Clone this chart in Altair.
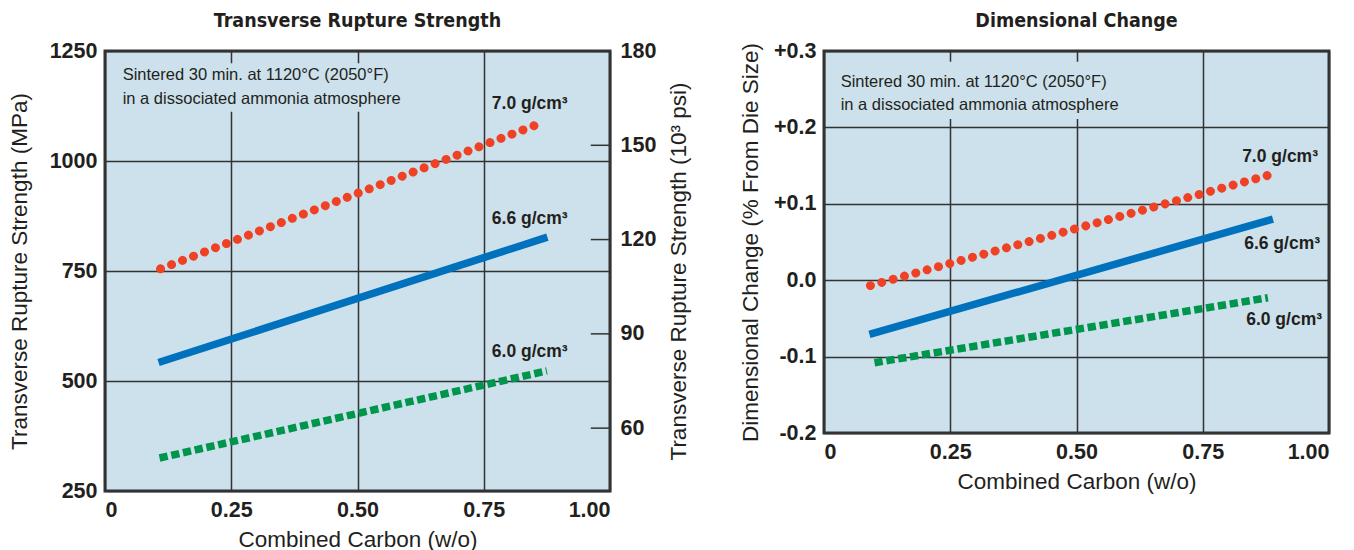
import altair as alt
import pandas as pd

# ---------------- data ----------------
densities = ["7.0 g/cm³", "6.6 g/cm³", "6.0 g/cm³"]
series_colors = ["#EF4123", "#0071BC", "#00954C"]
series_kinds = ["dots", "solid", "dashes"]

# Transverse rupture strength (MPa) vs. combined carbon (w/o)
trs_carbon_start = [0.110, 0.106, 0.108]
trs_carbon_end = [0.865, 0.876, 0.875]
trs_mpa_start = [755, 542, 325]
trs_mpa_end = [1087, 827, 523]
trs_label_carbon = [0.766, 0.766, 0.766]
trs_label_mpa = [1118, 857, 555]

# Dimensional change (% from die size) vs. combined carbon (w/o)
dc_carbon_start = [0.092, 0.090, 0.100]
dc_carbon_end = [0.889, 0.889, 0.879]
dc_pct_start = [-0.007, -0.071, -0.108]
dc_pct_end = [0.139, 0.080, -0.023]
dc_label_carbon = [0.828, 0.832, 0.836]
dc_label_pct = [0.155, 0.041, -0.059]

carbon_ticks = [0, 0.25, 0.5, 0.75, 1.0]
mpa_ticks = [250, 500, 750, 1000, 1250]
psi_ticks = [60, 90, 120, 150, 180]
dc_ticks = [-0.2, -0.1, 0.0, 0.1, 0.2, 0.3]

note_lines = ["Sintered 30 min. at 1120°C (2050°F)", "in a dissociated ammonia atmosphere"]
trs_note_carbon = 0.035
trs_note_mpa = [1184, 1129]
trs_note_box = ([0.02, 0.60], [1112, 1222])
dc_note_carbon = 0.033
dc_note_pct = [0.253, 0.223]
dc_note_box = ([0.02, 0.60], [0.211, 0.286])

psi_tick_len = [0.962, 1.0]

# ---------------- style ----------------
BG = "#CCE1EB"
INK = "#231F20"
BOLD_FONT = "Liberation Sans, Arial, sans-serif"
TITLE_FONT = "DejaVu Sans Condensed, DejaVu Sans, sans-serif"

X_TITLE = "Combined Carbon (w/o)"
x_scale = alt.Scale(domain=[0, 1], nice=False, zero=False)
x_axis = alt.Axis(
    values=carbon_ticks,
    labelExpr="datum.value == 0 ? '0' : format(datum.value, '.2f')",
    grid=True,
    labelPadding=8,
    titlePadding=8,
)


def x_enc(field):
    return alt.X(f"{field}:Q", scale=x_scale, axis=x_axis, title=X_TITLE)


def line_mark(color, kind):
    if kind == "dots":
        return alt.Chart().mark_line(color=color, strokeWidth=9, strokeDash=[0.01, 11.75], strokeCap="round")
    if kind == "dashes":
        return alt.Chart().mark_line(color=color, strokeWidth=7.5, strokeDash=[8.3, 3.7], strokeCap="butt")
    return alt.Chart().mark_line(color=color, strokeWidth=7.5, strokeCap="butt")


def panel(y_field, y_enc_fn, c0, c1, v0, v1, lab_c, lab_v, note_c, note_v, box):
    layers = []
    box_df = pd.DataFrame({"x0": [box[0][0]], "x1": [box[0][1]], "v0": [box[1][0]], "v1": [box[1][1]]})
    layers.append(
        alt.Chart(box_df).mark_rect(color=BG).encode(
            x=x_enc("x0"), x2="x1", y=y_enc_fn("v0"), y2="v1"
        )
    )
    note_df = pd.DataFrame({"c": [note_c] * len(note_lines), y_field: note_v, "t": note_lines})
    layers.append(
        alt.Chart(note_df).mark_text(
            align="left", baseline="alphabetic", font=BOLD_FONT, fontSize=16.5, color=INK
        ).encode(x=x_enc("c"), y=y_enc_fn(y_field), text="t:N")
    )
    for i, name in enumerate(densities):
        df = pd.DataFrame({"c": [c0[i], c1[i]], y_field: [v0[i], v1[i]]})
        m = line_mark(series_colors[i], series_kinds[i])
        layers.append(m.properties(data=df).encode(x=x_enc("c"), y=y_enc_fn(y_field)))
    lab_df = pd.DataFrame({"c": lab_c, y_field: lab_v, "t": densities})
    layers.append(
        alt.Chart(lab_df).mark_text(
            align="left", baseline="alphabetic", font=BOLD_FONT, fontWeight="bold", fontSize=17.5, color=INK
        ).encode(x=x_enc("c"), y=y_enc_fn(y_field), text="t:N")
    )
    return alt.layer(*layers)


# ---------- left panel: transverse rupture strength ----------
mpa_scale = alt.Scale(domain=[250, 1250], nice=False, zero=False)
mpa_axis = alt.Axis(values=mpa_ticks, format="d", grid=True, labelPadding=8, titlePadding=17.5)


def mpa_enc(field):
    return alt.Y(f"{field}:Q", scale=mpa_scale, axis=mpa_axis, title="Transverse Rupture Strength (MPa)")


trs_main = panel("mpa", mpa_enc, trs_carbon_start, trs_carbon_end, trs_mpa_start, trs_mpa_end,
                 trs_label_carbon, trs_label_mpa, trs_note_carbon, trs_note_mpa, trs_note_box)

psi_df = pd.DataFrame({"psi": psi_ticks, "x0": psi_tick_len[0], "x1": psi_tick_len[1]})
psi_layer = alt.Chart(psi_df).mark_rule(color="#333333", strokeWidth=1.5).encode(
    x=x_enc("x0"),
    x2="x1",
    y=alt.Y(
        "psi:Q",
        scale=alt.Scale(domain=[40, 180], nice=False, zero=False),
        axis=alt.Axis(orient="right", values=psi_ticks, grid=False, labelPadding=10,
                      titlePadding=12, titleAngle=270, titleBaseline="top"),
        title="Transverse Rupture Strength (10³ psi)",
    ),
)

left = (
    alt.layer(trs_main, psi_layer)
    .resolve_scale(y="independent")
    .properties(width=505, height=440, title="Transverse Rupture Strength")
)

# ---------- right panel: dimensional change ----------
dc_scale = alt.Scale(domain=[-0.2, 0.3], nice=False, zero=False)
dc_axis = alt.Axis(
    values=dc_ticks,
    grid=True,
    labelPadding=8,
    titlePadding=11,
    labelExpr="datum.value > 0.0001 ? '+' + format(datum.value, '.1f') : "
              "(datum.value < -0.0001 ? '-' + format(-datum.value, '.1f') : '0.0')",
)


def dc_enc(field):
    return alt.Y(f"{field}:Q", scale=dc_scale, axis=dc_axis, title="Dimensional Change (% From Die Size)")


right = panel("pct", dc_enc, dc_carbon_start, dc_carbon_end, dc_pct_start, dc_pct_end,
              dc_label_carbon, dc_label_pct, dc_note_carbon, dc_note_pct, dc_note_box
              ).properties(width=505, height=382, title="Dimensional Change")

chart = (
    alt.hconcat(left, right, spacing=214, bounds="flush")
    .properties(padding={"left": 7, "top": 9, "right": 0, "bottom": 0}, background="white")
    .configure_view(fill=BG, stroke="#333333", strokeWidth=3)
    .configure_axis(
        labelFont=BOLD_FONT, labelFontWeight="bold", labelFontSize=21.5, labelColor=INK,
        titleFont=BOLD_FONT, titleFontWeight="normal", titleFontSize=22.5, titleColor=INK,
        gridColor="#333333", gridWidth=1.5, ticks=False, domain=False,
    )
    .configure_title(font=TITLE_FONT, fontWeight="bold", fontSize=19.5, color=INK, anchor="middle", offset=9)
)

chart.save("out.html", embed_options={"renderer": "svg", "actions": False})
